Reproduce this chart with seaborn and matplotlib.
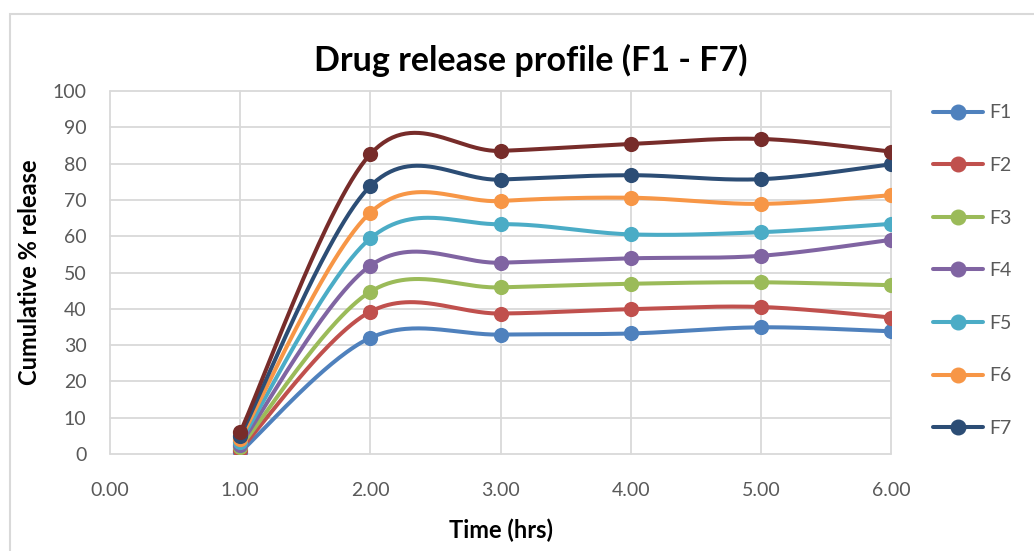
import numpy as np
import pandas as pd
import matplotlib
matplotlib.use("Agg")
import matplotlib.pyplot as plt
from matplotlib.lines import Line2D
from matplotlib.patches import Rectangle
import seaborn as sns

# ---- data ----
time_hrs = [1, 2, 3, 4, 5, 6]
F1 = [0.5, 32.0, 32.9, 33.2, 34.9, 33.8]
F2 = [1.2, 39.2, 38.7, 39.9, 40.5, 37.6]
F3 = [1.9, 44.7, 45.9, 46.9, 47.3, 46.5]
F4 = [2.6, 51.9, 52.7, 53.9, 54.6, 59.0]
F5 = [3.4, 59.4, 63.3, 60.5, 61.1, 63.4]
F6 = [4.2, 66.5, 69.7, 70.6, 68.9, 71.3]
F7 = [5.0, 73.8, 75.6, 76.8, 75.7, 79.8]
F8 = [6.0, 82.6, 83.5, 85.4, 86.8, 83.3]
series_names = ["F1", "F2", "F3", "F4", "F5", "F6", "F7", "F8"]
series_values = [F1, F2, F3, F4, F5, F6, F7, F8]
legend_names = ["F1", "F2", "F3", "F4", "F5", "F6", "F7"]
x_ticks = [0, 1, 2, 3, 4, 5, 6]
y_ticks = [0, 10, 20, 30, 40, 50, 60, 70, 80, 90, 100]
colors = ["#4F81BD", "#C0504D", "#9BBB59", "#8064A2", "#4BACC6",
          "#F79646", "#2C4D75", "#772C2A"]

title = "Drug release profile (F1 - F7)"
xlabel = "Time (hrs)"
ylabel = "Cumulative % release"


def excel_smooth(xs, ys, n=60):
    """Bezier smoothing like spreadsheet 'smoothed line' (Catmull-Rom)."""
    P = np.column_stack([xs, ys]).astype(float)
    m = len(P)
    out = []
    t = np.linspace(0, 1, n)[:, None]
    for i in range(m - 1):
        p0 = P[i]
        p3 = P[i + 1]
        pm = P[i - 1] if i > 0 else P[i]
        pp = P[i + 2] if i + 2 < m else P[i + 1]
        c1 = p0 + (p3 - pm) / 6.0
        c2 = p3 - (pp - p0) / 6.0
        seg = ((1 - t) ** 3) * p0 + 3 * ((1 - t) ** 2) * t * c1 \
            + 3 * (1 - t) * t ** 2 * c2 + t ** 3 * p3
        if i > 0:
            seg = seg[1:]
        out.append(seg)
    return np.vstack(out)


rows = []
pts = []
for name, vals in zip(series_names, series_values):
    curve = excel_smooth(time_hrs, vals)
    for k, (cx, cy) in enumerate(curve):
        rows.append({"x": cx, "y": cy, "series": name, "order": k})
    for tx, v in zip(time_hrs, vals):
        pts.append({"x": tx, "y": v, "series": name})
curve_df = pd.DataFrame(rows)
pts_df = pd.DataFrame(pts)
palette = dict(zip(series_names, colors))

sns.set_theme(style="white")
plt.rcParams["font.family"] = ["Lato", "DejaVu Sans"]

W, H = 1034, 551
fig = plt.figure(figsize=(W / 100, H / 100), dpi=100)
ax = fig.add_axes([110 / W, 1 - 454 / H, (891 - 110) / W, (454 - 91) / H])

# chart border
fig.patches.append(Rectangle((10 / W, -0.1), 1.2, (H - 14) / H + 0.1,
                             transform=fig.transFigure, fill=False,
                             edgecolor="#D9D9D9", linewidth=1.5, zorder=0))

for name in series_names:
    sub_c = curve_df[curve_df["series"] == name]
    sns.lineplot(data=sub_c, x="x", y="y", sort=False, estimator=None,
                 color=palette[name], linewidth=2.9, ax=ax, legend=False,
                 zorder=3, solid_capstyle="round")
    sub_p = pts_df[pts_df["series"] == name]
    sns.scatterplot(data=sub_p, x="x", y="y", color=palette[name], s=120,
                    edgecolor=palette[name], linewidth=0, ax=ax,
                    legend=False, zorder=4)

ax.set_xlim(0, 6)
ax.set_ylim(0, 100)
ax.set_xticks(x_ticks)
ax.set_xticklabels([f"{v:.2f}" for v in x_ticks])
ax.set_yticks(y_ticks)
ax.set_yticklabels([str(v) for v in y_ticks])
ax.grid(True, color="#D9D9D9", linewidth=1.3)
ax.set_axisbelow(True)
for sp in ax.spines.values():
    sp.set_visible(False)
for line in ax.get_xgridlines() + ax.get_ygridlines():
    line.set_clip_on(False)
ax.tick_params(axis="both", length=0, labelsize=14, labelcolor="#595959")
ax.tick_params(axis="y", pad=17)
ax.tick_params(axis="x", pad=20)

ax.set_xlabel(xlabel, fontsize=17, fontweight="bold", color="black", labelpad=14)
ax.set_ylabel(ylabel, fontsize=17, fontweight="bold", color="black", labelpad=8)

fig.text(531 / W, 1 - 60 / H, title, ha="center", va="center",
         fontsize=24.5, fontweight="bold", color="black")

handles = [Line2D([0], [0], color=c, linewidth=2.9, marker="o", markersize=10.5)
           for c in colors[:7]]
fig.legend(handles, legend_names, loc="upper left",
           bbox_to_anchor=(915 / W, 1 - 87 / H), frameon=False,
           fontsize=14, labelcolor="#595959", handlelength=2.6,
           handletextpad=0.3, labelspacing=1.83)

fig.savefig("out.png", dpi=100)
